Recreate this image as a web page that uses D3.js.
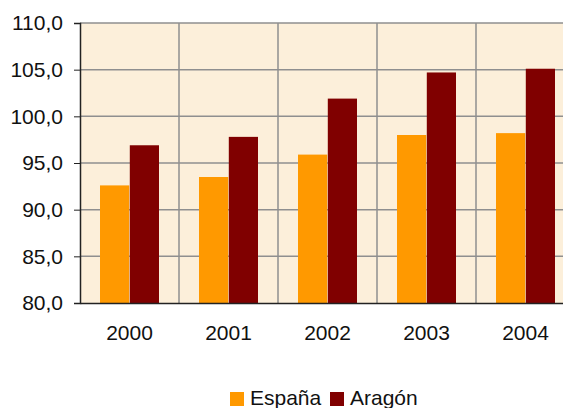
<!DOCTYPE html>
<html>
<head>
<meta charset="utf-8">
<script src="https://cdn.jsdelivr.net/npm/d3@7"></script>
<style>
  body { margin: 0; background: #fff; overflow: hidden; }
  svg { display: block; font-family: "Liberation Sans", Arial, sans-serif; }
</style>
</head>
<body>
<div id="chart"></div>
<script>
var years   = ["2000", "2001", "2002", "2003", "2004"];
var espana  = [92.6, 93.5, 95.9, 98.0, 98.2];
var aragon  = [96.9, 97.8, 101.9, 104.7, 105.1];
var series  = ["España", "Aragón"];
var colors  = ["#FF9900", "#800000"];
var yTicks  = [80, 85, 90, 95, 100, 105, 110];

var width = 563, height = 408;
var plotLeft = 80, plotTop = 23, plotBottom = 303, plotRight = 575;

var svg = d3.select("#chart").append("svg")
	.attr("width", width)
	.attr("height", height);

var x = d3.scaleBand().domain(years).range([plotLeft, plotRight]);
var xs = d3.scaleBand().domain(series).range([20, 79]).paddingInner(0.02);
var y = d3.scaleLinear().domain([80, 110]).range([plotBottom, plotTop]);

// plot background
svg.append("rect")
	.attr("x", plotLeft).attr("y", plotTop)
	.attr("width", plotRight - plotLeft).attr("height", plotBottom - plotTop)
	.attr("fill", "#FCEFDA");

// grid
svg.append("g").selectAll("line")
	.data(yTicks.slice(1))
	.enter().append("line")
	.attr("x1", plotLeft).attr("x2", plotRight)
	.attr("y1", function(d){ return y(d); })
	.attr("y2", function(d){ return y(d); })
	.attr("stroke", "#8f8f8f").attr("stroke-width", 1.5);

svg.append("g").selectAll("line")
	.data(years.slice(1))
	.enter().append("line")
	.attr("x1", function(d){ return x(d); })
	.attr("x2", function(d){ return x(d); })
	.attr("y1", plotTop).attr("y2", plotBottom)
	.attr("stroke", "#8f8f8f").attr("stroke-width", 1.5);

// bars
var data = years.map(function(yr, i){ return { year: yr, values: [espana[i], aragon[i]] }; });

svg.append("g").selectAll("g")
	.data(data)
	.enter().append("g")
	.attr("transform", function(d){ return "translate(" + x(d.year) + ",0)"; })
	.selectAll("rect")
	.data(function(d){ return d.values.map(function(v, j){ return { s: series[j], v: v, c: colors[j] }; }); })
	.enter().append("rect")
	.attr("x", function(d){ return xs(d.s); })
	.attr("width", xs.bandwidth())
	.attr("y", function(d){ return y(d.v); })
	.attr("height", function(d){ return plotBottom - y(d.v); })
	.attr("fill", function(d){ return d.c; });

// y axis
var yAxis = d3.axisLeft(y)
	.tickValues(yTicks)
	.tickSize(6)
	.tickPadding(11)
	.tickFormat(function(d){ return d3.format(".1f")(d).replace(".", ","); });

var gy = svg.append("g")
	.attr("transform", "translate(" + plotLeft + ",0)")
	.call(yAxis);
gy.select(".domain").attr("stroke", "#222").attr("stroke-width", 1.5);
gy.selectAll(".tick line").attr("stroke", "#222");
gy.selectAll("text").attr("font-size", 21).attr("fill", "#111")
	.attr("font-family", "'Liberation Sans', Arial, sans-serif");

// x axis
var xAxis = d3.axisBottom(x).tickSize(0).tickPadding(22);
var gx = svg.append("g")
	.attr("transform", "translate(0," + plotBottom + ")")
	.call(xAxis);
gx.select(".domain").attr("stroke", "#222").attr("stroke-width", 1.5);
gx.selectAll("text").attr("font-size", 21).attr("fill", "#111")
	.attr("font-family", "'Liberation Sans', Arial, sans-serif");

// legend
var legendX = [230, 330];
var legend = svg.append("g").selectAll("g")
	.data(series)
	.enter().append("g")
	.attr("transform", function(d, i){ return "translate(" + legendX[i] + ",392)"; });

legend.append("rect")
	.attr("width", 14).attr("height", 14)
	.attr("fill", function(d, i){ return colors[i]; });

legend.append("text")
	.attr("x", 20).attr("y", 13)
	.attr("font-size", 21).attr("fill", "#111")
	.text(function(d){ return d; });
</script>
</body>
</html>
